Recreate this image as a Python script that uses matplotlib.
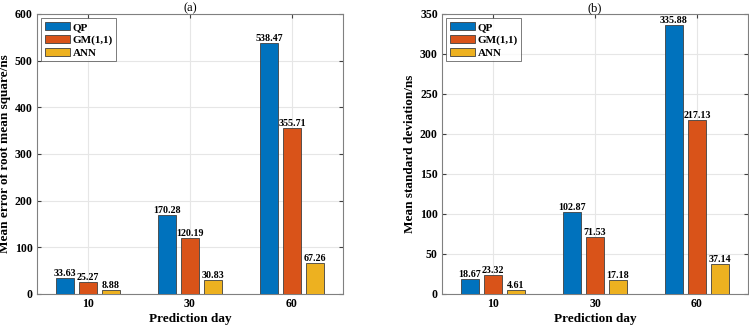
import matplotlib
matplotlib.use('Agg')
import matplotlib.pyplot as plt
import numpy as np

days = ['10', '30', '60']
series = ['QP', 'GM(1,1)', 'ANN']
colors = ['#0072BD', '#D95319', '#EDB120']

rmse_qp = [33.63, 170.28, 538.47]
rmse_gm = [25.27, 120.19, 355.71]
rmse_ann = [8.88, 30.83, 67.26]

std_qp = [18.67, 102.87, 335.88]
std_gm = [23.32, 71.53, 217.13]
std_ann = [4.61, 17.18, 37.14]

plt.rcParams['font.family'] = ['Liberation Serif', 'DejaVu Serif']
plt.rcParams['font.weight'] = 'bold'


def drawPanel(ax, values, ylim, yticks, ylabel, title):
    x = np.arange(1, len(days) + 1)
    offsets = [-0.225, 0, 0.225]
    for vals, off, col, name in zip(values, offsets, colors, series):
        bars = ax.bar(x + off, vals, width=0.18, color=col, edgecolor='#404040',
                      linewidth=0.6, label=name, zorder=3)
        for b, v in zip(bars, vals):
            ax.text(b.get_x() + b.get_width() / 2, v, '%.2f' % v, ha='center', va='bottom',
                    fontsize=7.2, fontweight='bold', zorder=4)
    ax.set_xlim(0.5, 3.5)
    ax.set_ylim(*ylim)
    ax.set_yticks(yticks)
    ax.set_xticks(x)
    ax.set_xticklabels(days)
    ax.tick_params(direction='in', top=True, right=True, labelsize=8.5, length=3,
                   color='#404040', pad=3)
    for lab in ax.get_xticklabels() + ax.get_yticklabels():
        lab.set_fontweight('bold')
    ax.grid(True, color='#e6e6e6', linewidth=0.8, zorder=0)
    ax.set_axisbelow(True)
    for s in ax.spines.values():
        s.set_color('#808080')
        s.set_linewidth(0.8)
    ax.set_xlabel('Prediction day', fontsize=9.5, fontweight='bold', labelpad=2)
    ax.set_ylabel(ylabel, fontsize=9.5, fontweight='bold', labelpad=3)
    ax.set_title(title, fontsize=9, fontweight='normal', pad=2)
    leg = ax.legend(loc='upper left', prop={'weight': 'bold', 'size': 8},
                    fancybox=False, edgecolor='#404040', handlelength=2.3, handleheight=0.8,
                    borderpad=0.3, labelspacing=0.25, handletextpad=0.2,
                    borderaxespad=0.4)
    leg.get_frame().set_linewidth(0.6)


fig = plt.figure(figsize=(7.49, 3.30), dpi=100)
ax1 = fig.add_axes([37 / 749, 36 / 330, 306 / 749, 280 / 330])
ax2 = fig.add_axes([442 / 749, 36 / 330, 306 / 749, 280 / 330])

drawPanel(ax1, [rmse_qp, rmse_gm, rmse_ann], (0, 600), np.arange(0, 601, 100),
          'Mean error of root mean square/ns', '(a)')
drawPanel(ax2, [std_qp, std_gm, std_ann], (0, 350), np.arange(0, 351, 50),
          'Mean standard deviation/ns', '(b)')

fig.savefig('out.png', dpi=100)
